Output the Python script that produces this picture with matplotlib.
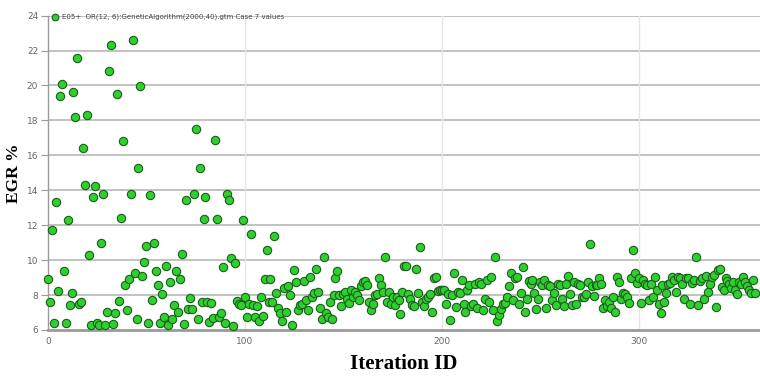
import numpy as np
import matplotlib
matplotlib.use('Agg')
import matplotlib.pyplot as plt

# EGR % per iteration in blocks of iterations
egr_000_099 = [8.9, 7.6, 11.7, 6.4, 13.3, 8.25, 19.4, 20.1, 9.4, 6.4,
               12.3, 7.4, 8.1, 19.6, 18.2, 21.6, 7.5, 7.6, 16.4, 14.3,
               18.3, 10.3, 6.3, 13.6, 14.25, 6.4, 6.3, 11.0, 13.8, 6.3,
               7.0, 20.85, 22.3, 6.35, 6.95, 19.5, 7.65, 12.4, 16.8, 8.55,
               7.15, 8.9, 13.8, 22.6, 9.25, 6.65, 15.3, 19.95, 9.1, 9.9,
               10.8, 6.4, 13.7, 7.7, 11.0, 9.35, 8.55, 6.4, 8.05, 6.75,
               9.65, 6.3, 8.75, 6.6, 7.45, 9.35, 7.0, 8.9, 10.35, 6.35,
               13.45, 7.2, 7.85, 7.2, 13.8, 17.5, 6.6, 15.3, 7.6, 12.35,
               13.6, 7.6, 6.45, 7.55, 6.7, 16.85, 12.35, 6.75, 6.95, 9.6,
               6.4, 13.8, 13.45, 10.1, 6.25, 9.85, 7.65, 7.5, 7.45, 12.3]
egr_100_199 = [7.9, 6.75, 7.5, 11.5, 7.4, 6.75, 7.35, 6.5, 7.9, 6.8,
               8.9, 10.6, 7.6, 8.9, 7.6, 11.4, 8.1, 7.25, 6.95, 6.5,
               8.4, 7.05, 8.5, 8.0, 6.3, 9.45, 8.75, 7.15, 7.45, 7.5,
               8.8, 7.7, 7.15, 9.05, 7.9, 8.1, 9.5, 8.2, 7.25, 6.65,
               10.2, 6.95, 6.75, 7.6, 6.65, 8.0, 8.95, 9.4, 8.0, 7.35,
               8.05, 8.2, 7.8, 7.55, 8.3, 7.9, 8.2, 8.0, 7.7, 8.5,
               8.75, 8.8, 8.55, 7.6, 7.15, 7.5, 8.0, 8.05, 8.95, 8.55,
               8.15, 10.2, 7.6, 8.2, 7.5, 7.9, 7.45, 7.9, 7.7, 6.9,
               8.15, 9.65, 9.65, 8.05, 7.8, 7.45, 7.35, 9.5, 8.1, 10.75,
               7.6, 7.35, 7.75, 7.9, 8.05, 7.05, 9.0, 9.05, 8.25, 8.3]
egr_200_299 = [8.3, 8.3, 7.5, 8.05, 6.55, 8.0, 9.25, 7.3, 8.15, 8.1,
               8.85, 7.5, 7.05, 8.3, 8.55, 7.35, 7.5, 8.65, 7.25, 8.75,
               8.65, 7.15, 7.8, 8.85, 7.6, 9.05, 7.15, 10.2, 6.5, 6.85,
               7.2, 7.5, 7.55, 7.9, 8.5, 9.25, 7.7, 8.95, 9.05, 7.5,
               8.1, 9.6, 7.05, 7.75, 8.8, 8.65, 8.85, 8.1, 7.2, 7.8,
               8.75, 8.55, 8.85, 7.25, 8.6, 8.5, 7.7, 8.1, 7.45, 8.65,
               8.55, 7.8, 7.35, 8.65, 9.1, 8.05, 7.45, 8.75, 7.5, 8.65,
               8.55, 7.9, 7.9, 8.05, 8.75, 10.9, 8.5, 7.95, 8.55, 8.55,
               8.95, 8.65, 7.25, 7.7, 7.35, 7.6, 7.25, 7.9, 7.05, 9.05,
               8.75, 7.8, 8.1, 8.05, 7.9, 7.55, 8.95, 10.55, 9.25, 8.7]
egr_300_359 = [8.95, 7.55, 8.85, 8.65, 8.55, 7.7, 8.65, 7.9, 9.05, 8.3,
               7.5, 6.95, 8.6, 7.6, 8.1, 8.65, 8.7, 9.05, 8.85, 8.15,
               9.05, 8.95, 8.65, 7.75, 8.95, 8.95, 7.5, 8.7, 8.85, 10.2,
               7.45, 8.8, 8.95, 7.75, 9.1, 8.2, 8.65, 9.05, 9.15, 7.3,
               9.45, 9.5, 8.45, 8.3, 8.95, 8.8, 8.65, 8.4, 8.75, 8.3,
               8.05, 8.75, 8.65, 9.05, 8.75, 8.5, 8.3, 8.1, 8.85, 8.1]

egr = np.array(egr_000_099 + egr_100_199 + egr_200_299 + egr_300_359)
iteration = np.arange(len(egr))

y_ticks = [6, 8, 10, 12, 14, 16, 18, 20, 22, 24]
x_ticks = [0, 100, 200, 300]
series_label = 'E05+  OR(12, 6):GeneticAlgorithm(2000,40).gtm Case 7 values'

fig = plt.figure(figsize=(7.6, 3.81), dpi=100)
ax = fig.add_axes([0.063, 0.134, 0.937, 0.825])

ax.set_xlim(0, 361.5)
ax.set_ylim(6, 24)
ax.set_yticks(y_ticks)
ax.set_xticks(x_ticks)

# grid: strong horizontal, faint vertical
for yv in y_ticks[1:]:
    ax.axhline(yv, color='#bdbdbd', lw=1.3, zorder=0)
for xv in x_ticks[1:]:
    ax.axvline(xv, color='#e6e6e6', lw=1.0, zorder=0)

ax.scatter(iteration, egr, s=36, c='#2fcf2f', edgecolors='#1b5e1b',
           linewidths=0.8, zorder=3, clip_on=False, label=series_label)

for side in ['top', 'right']:
    ax.spines[side].set_visible(False)
ax.spines['left'].set_color('#9a9a9a')
ax.spines['bottom'].set_color('#9a9a9a')
ax.spines['bottom'].set_linewidth(2.0)
ax.spines['left'].set_linewidth(1.0)

ax.tick_params(axis='y', direction='out', length=5, width=0.8, color='#9a9a9a',
               labelsize=6.5, labelcolor='#666666', pad=2)
ax.tick_params(axis='x', direction='out', length=0, labelsize=6.5,
               labelcolor='#666666', pad=5)

ax.set_ylabel('EGR %', family='Liberation Serif', fontweight='bold',
              fontsize=12.5, labelpad=3)
ax.set_xlabel('Iteration ID', family='Liberation Serif', fontweight='bold',
              fontsize=15, labelpad=6)

ax.legend(loc='lower left', bbox_to_anchor=(0.0, 0.985), frameon=False,
          fontsize=5, handletextpad=0.1, borderaxespad=0, borderpad=0,
          markerscale=0.8, labelcolor='#444444')

fig.savefig('out.png', dpi=100)
